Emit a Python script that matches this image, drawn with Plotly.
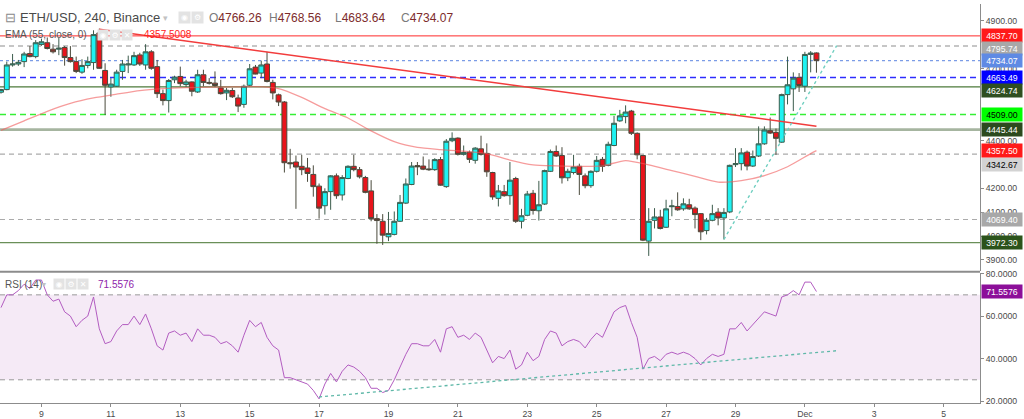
import plotly.graph_objects as go
import pandas as pd

# ---------------- data ----------------
first_bar = "2021-11-07 20:00"   # 4h bars

opens = [4602,4613,4716,4720,4730,4764,4751,4802,4809,4782,
         4782,4789,4747,4730,4686,4714,4726,4850,4693,4624,
         4627,4689,4716,4716,4758,4716,4771,4709,4596,4567,
         4654,4668,4634,4645,4603,4675,4643,4640,4620,4599,
         4609,4578,4551,4631,4707,4682,4720,4643,4591,4561,
         4307,4310,4292,4285,4258,4209,4127,4186,4252,4172,
         4241,4292,4278,4245,4189,4073,4062,3997,4007,4062,
         4138,4216,4295,4293,4281,4278,4320,4207,4399,4410,
         4342,4351,4317,4365,4346,4266,4158,4186,4169,4241,
         4062,4087,4179,4106,4134,4271,4354,4337,4244,4266,
         4292,4252,4211,4271,4321,4296,4379,4482,4500,4523,
         4430,4337,3979,4066,4080,4037,4123,4124,4114,4131,
         4117,4094,4023,4066,4100,4076,4101,4299,4303,4351,
         4293,4335,4386,4441,4434,4393,4592,4616,4664,4627,
         4760,4766.26]
highs = [4616,4730,4762,4737,4771,4795,4820,4826,4831,4803,
         4830,4795,4795,4751,4740,4751,4861,4868,4723,4661,
         4696,4737,4755,4771,4767,4803,4778,4737,4613,4657,
         4671,4709,4654,4647,4696,4696,4661,4689,4654,4620,
         4620,4592,4634,4720,4716,4734,4771,4654,4596,4565,
         4365,4337,4340,4327,4296,4220,4200,4255,4262,4255,
         4296,4340,4289,4252,4234,4092,4092,4101,4103,4172,
         4241,4310,4310,4333,4321,4326,4331,4406,4434,4413,
         4379,4358,4372,4420,4388,4269,4214,4214,4310,4248,
         4114,4189,4193,4231,4278,4362,4379,4372,4282,4340,
         4303,4262,4275,4335,4331,4395,4503,4528,4547,4528,
         4434,4340,4117,4117,4110,4152,4152,4183,4158,4156,
         4124,4096,4076,4131,4117,4117,4299,4368,4368,4358,
         4358,4459,4459,4496,4450,4596,4751,4685,4682,4771,
         4774,4768.56]
lows = [4596,4610,4709,4712,4707,4748,4744,4796,4781,4764,
        4757,4713,4726,4682,4679,4702,4696,4700,4507,4583,
        4624,4654,4682,4712,4712,4696,4696,4578,4547,4517,
        4640,4627,4624,4585,4599,4627,4634,4624,4592,4569,
        4578,4519,4537,4627,4677,4661,4643,4572,4544,4266,
        4282,4114,4255,4227,4165,4073,4090,4110,4156,4149,
        4238,4271,4241,4179,4062,3968,3963,3979,4003,4059,
        4134,4213,4255,4276,4273,4273,4211,4202,4393,4337,
        4337,4306,4303,4337,4248,4152,4124,4165,4131,4055,
        4032,4083,4090,4065,4130,4268,4331,4220,4230,4258,
        4172,4200,4202,4266,4269,4292,4376,4478,4472,4423,
        4321,3979,3917,4032,4028,4034,4083,4106,4106,4110,
        4032,3983,4007,4062,4045,3986,4096,4289,4275,4275,
        4289,4331,4382,4427,4340,4390,4551,4523,4603,4603,
        4685,4683.64]
closes = [4613,4716,4720,4727,4762,4751,4809,4813,4785,4771,
          4786,4747,4730,4689,4714,4730,4843,4702,4631,4636,
          4686,4720,4720,4755,4720,4771,4702,4596,4567,4651,
          4665,4638,4645,4606,4675,4643,4640,4630,4596,4610,
          4583,4544,4627,4700,4678,4716,4647,4599,4561,4307,
          4303,4289,4278,4262,4207,4117,4186,4252,4169,4245,
          4292,4278,4248,4183,4073,4065,4004,4011,4062,4141,
          4218,4293,4290,4280,4278,4320,4213,4397,4409,4342,
          4350,4321,4368,4342,4269,4164,4189,4169,4234,4062,
          4085,4176,4107,4131,4274,4354,4335,4244,4271,4289,
          4258,4211,4271,4317,4292,4384,4472,4503,4519,4430,
          4340,3983,4062,4080,4032,4114,4126,4110,4135,4114,
          4090,4018,4066,4094,4076,4099,4296,4303,4348,4293,
          4333,4386,4444,4431,4409,4592,4633,4661,4630,4760,
          4766,4734.07]

# EMA(55) read at every 4th bar (plus last bar)
ema_bars = [0,4,8,12,16,20,24,28,32,36,40,44,48,52,56,60,64,68,72,76,80,
            84,88,92,96,100,104,108,112,116,120,124,128,132,136,140,141]
ema_vals = [4442,4482,4522,4555,4578,4594,4609,4617,4621,4623,4624,4625,4617,
            4580,4533,4494,4440,4395,4371,4362,4355,4345,4318,4298,4294,4292,
            4294,4316,4298,4274,4250,4226,4232,4253,4290,4345,4357.5]

rsi_vals = [64,70,70,72,75,73,77,77,70,67,
            68,62,60,55,58,60,69,54,47,48,
            53,56,56,60,56,61,54,46,44,52,
            53,51,52,48,54,51,51,50,47,48,
            46,43,51,58,55,57,50,46,44,31,
            31,30,29,28,25,21,28,33,29,34,
            37,36,34,31,26,26,24,25,30,36,
            42,47,47,46,46,49,43,54,55,50,
            51,49,52,50,44,38,41,40,44,35,
            37,43,39,41,49,53,52,46,48,49,
            48,45,49,52,50,56,62,64,65,57,
            50,35,40,41,39,42,43,42,43,42,
            40,37,40,42,41,42,54,54,57,53,
            56,59,62,61,60,69,70,72,70,76,
            76,71.5576]

# horizontal levels and their label styles
levels = [4837.70, 4795.74, 4734.07, 4663.49, 4624.74, 4509.00, 4445.44, 4342.67, 4069.40, 3972.30]
level_line_colors = ["#ff2a2a", "#b4b4b4", "#7b9ce6", "#2d2dff", "#4c7a3a", "#35f035", "#a6b5a0", "#ababab", "#ababab", "#6a8f58"]
level_dash = ["solid", "5px,4px", "dot", "6px,4px", "solid", "6px,4px", "solid", "5px,4px", "5px,4px", "solid"]
level_width = [1, 1.5, 1.2, 1.3, 1.2, 1.5, 2.6, 1.2, 1.2, 1.3]
level_label_bg = ["#ff1a1a", "#a8a8a8", "#5f8ae4", "#0000ff", "#2f4f20", "#00ff00", "#2c4a1e", "#d3d3d3", "#a8a8a8", "#2b531b"]
level_label_fg = ["white", "white", "white", "white", "white", "black", "white", "black", "white", "white"]
level_label_shift = [0, -3, 0, 0, -4, 0, 0, -10, 0, 0]

ema_last = 4357.50
rsi_last = 71.5576
price_ticks = [3900, 4000, 4100, 4200, 4400, 4700, 4900]
rsi_ticks = [20, 40, 60, 80]
rsi_band = [30, 70]

# trend lines (anchor bar, price)
resist_bars = [17, 141]
resist_y = [4865, 4460]
support_bar = 125
support_end = "2021-12-01 22:00"
support_y = [3986, 4797]
rsi_trend_bar = 55
rsi_trend_y = [21.9, 43.7]

day_ticks = ["2021-11-09", "2021-11-11", "2021-11-13", "2021-11-15", "2021-11-17", "2021-11-19",
             "2021-11-21", "2021-11-23", "2021-11-25", "2021-11-27", "2021-11-29", "2021-12-01",
             "2021-12-03", "2021-12-05"]
day_text = ["9", "11", "13", "15", "17", "19", "21", "23", "25", "27", "29", "Dec", "3", "5"]

# ---------------- figure ----------------
W, H = 1024, 419
ML, MR, MT, MB = 0, 44, 0, 15
PW, PH = W - ML - MR, H - MT - MB
FONT = "Liberation Sans"

dates = pd.date_range(first_bar, periods=len(opens), freq="4h")
px_per_day = 34.7
x0 = dates[0] - pd.Timedelta(days=1.0 / px_per_day)
x1 = x0 + pd.Timedelta(days=PW / px_per_day)

price_dom = [1 - 270 / PH, 1]
rsi_dom = [0, 1 - 272 / PH]
price_rng = [4900 - (270 - 17.2) / 0.242, 4900 + 17.2 / 0.242]
rsi_rng = [80 - (PH - 273) / 2.15, 80 + 1 / 2.15]


def pxx(x):
    return x / PW


def pxy(y):
    return 1 - y / PH


fig = go.Figure()

fig.add_trace(go.Candlestick(
    x=dates, open=opens, high=highs, low=lows, close=closes,
    increasing=dict(fillcolor="#1ef2f2", line=dict(color="#3c5c4c", width=1)),
    decreasing=dict(fillcolor="#e8141b", line=dict(color="#4a4a3c", width=1)),
    whiskerwidth=0, showlegend=False, hoverinfo="skip", xaxis="x", yaxis="y"))

fig.add_trace(go.Scatter(
    x=dates[ema_bars], y=ema_vals, mode="lines",
    line=dict(color="rgba(240,90,90,0.6)", width=1.3, shape="spline", smoothing=0.6),
    showlegend=False, hoverinfo="skip", xaxis="x", yaxis="y"))

fig.add_trace(go.Scatter(
    x=[dates[resist_bars[0]], dates[resist_bars[1]]], y=resist_y, mode="lines",
    line=dict(color="#f23c3c", width=1.5), showlegend=False, hoverinfo="skip", xaxis="x", yaxis="y"))

fig.add_trace(go.Scatter(
    x=[dates[support_bar], pd.Timestamp(support_end)], y=support_y, mode="lines",
    line=dict(color="#6fcfc0", width=1.4, dash="3px,3px"), showlegend=False, hoverinfo="skip",
    xaxis="x", yaxis="y"))

fig.add_trace(go.Scatter(
    x=dates, y=rsi_vals, mode="lines", line=dict(color="#b25cc0", width=1),
    showlegend=False, hoverinfo="skip", xaxis="x", yaxis="y2"))

fig.add_trace(go.Scatter(
    x=[dates[rsi_trend_bar], pd.Timestamp(support_end)], y=rsi_trend_y, mode="lines",
    line=dict(color="#5fb8a8", width=1.3, dash="3px,3px"), showlegend=False, hoverinfo="skip",
    xaxis="x", yaxis="y2"))

shapes = []
for v, c, d, w in zip(levels, level_line_colors, level_dash, level_width):
    shapes.append(dict(type="line", xref="paper", x0=0, x1=1, yref="y", y0=v, y1=v,
                       line=dict(color=c, width=w, dash=d), layer="below"))
# RSI band
shapes.append(dict(type="rect", xref="paper", x0=0, x1=1, yref="y2", y0=rsi_band[0], y1=rsi_band[1],
                   fillcolor="rgba(160,60,170,0.11)", line=dict(width=0), layer="below"))
for v in rsi_band:
    shapes.append(dict(type="line", xref="paper", x0=0, x1=1, yref="y2", y0=v, y1=v,
                       line=dict(color="#9a9a9a", width=1, dash="5px,4px"), layer="below"))
# pane separator
shapes.append(dict(type="line", xref="paper", x0=0, x1=1, yref="paper", y0=pxy(271), y1=pxy(271),
                   line=dict(color="#8c8c8c", width=2)))

annotations = []


def box(y, text, bg, fg, yref="y", shift=0):
    annotations.append(dict(xref="paper", x=1, xanchor="left", xshift=1, yref=yref, y=y, yanchor="middle",
                            yshift=shift, text=text, showarrow=False, bgcolor=bg, width=38, height=11,
                            borderpad=1, align="center", font=dict(family=FONT, size=8.7, color=fg)))


for v, bg, fg, sh in zip(levels, level_label_bg, level_label_fg, level_label_shift):
    box(v, f"{v:.2f}", bg, fg, shift=sh)
box(ema_last, f"{ema_last:.2f}", "#ff1a1a", "white")
box(rsi_last, f"{rsi_last:.4f}", "#8c0f99", "white", yref="y2")


def text(x, y, t, size, color, anchor="left"):
    annotations.append(dict(xref="paper", yref="paper", x=pxx(x), y=pxy(y), xanchor=anchor, yanchor="middle",
                            text=t, showarrow=False, font=dict(family=FONT, size=size, color=color)))


def icon(x, y, t, w=11):
    annotations.append(dict(xref="paper", yref="paper", x=pxx(x), y=pxy(y), xanchor="left", yanchor="middle",
                            text=t, showarrow=False, bgcolor="#e3e3e3", width=w, height=w, borderpad=0,
                            font=dict(family="DejaVu Sans", size=8, color="#ffffff")))


text(3, 14, "⊟", 13, "#8a8a8a")
text(18, 14, "ETH/USD, 240, Binance", 13, "#4a4a4a")
text(161, 14, "▾", 9, "#c2c2c2")
icon(178, 14, "◉")
icon(191, 14, "⚙")
ohlc_lbl = ["O", "H", "L", "C"]
ohlc_val = [opens[-1], highs[-1], lows[-1], closes[-1]]
ohlc_x = [207, 267, 333, 399]
for lx, l, v in zip(ohlc_x, ohlc_lbl, ohlc_val):
    text(lx, 14, f"<span style='color:#7a7a7a'>{l}</span>{v:.2f}", 12, "#7d2b2b")

text(3, 31, "EMA (55, close, 0)", 10, "#555555")
icon(97, 31, "◉", 10)
icon(109, 31, "⚙", 10)
icon(121, 31, "✕", 10)
text(142, 31, f"{ema_last + 0.0008:.4f}", 10, "#ff2020")

text(3, 284, "RSI (14)", 10, "#555555")
text(40, 284, "▾", 8, "#c2c2c2")
icon(53, 284, "◉", 10)
icon(65, 284, "⚙", 10)
icon(77, 284, "✕", 10)
text(96, 284, f"{rsi_last:.4f}", 10, "#8e24aa")

axis_font = dict(family=FONT, size=8.7, color="#4a4a4a")
fig.update_layout(
    width=W, height=H, margin=dict(l=ML, r=MR, t=MT, b=MB),
    paper_bgcolor="white", plot_bgcolor="white", showlegend=False,
    boxgap=0.15, boxgroupgap=0.0,
    xaxis=dict(type="date", range=[x0, x1], anchor="y2", tickvals=pd.to_datetime(day_ticks), ticktext=day_text,
               ticks="outside", ticklen=3, tickcolor="#8c8c8c", tickfont=axis_font, showgrid=False,
               showline=True, linecolor="#8c8c8c", linewidth=1, zeroline=False,
               rangeslider=dict(visible=False)),
    yaxis=dict(domain=price_dom, range=price_rng, side="right", tickvals=price_ticks, tickformat=".2f",
               ticks="outside", ticklen=3, tickcolor="#8c8c8c", tickfont=axis_font, showgrid=False,
               showline=True, linecolor="#8c8c8c", linewidth=1, zeroline=False),
    yaxis2=dict(domain=rsi_dom, range=rsi_rng, side="right", anchor="x", tickvals=rsi_ticks, tickformat=".4f",
                ticks="outside", ticklen=3, tickcolor="#8c8c8c", tickfont=axis_font, showgrid=False,
                showline=True, linecolor="#8c8c8c", linewidth=1, zeroline=False),
    shapes=shapes, annotations=annotations,
)

fig.write_html("out.html")
